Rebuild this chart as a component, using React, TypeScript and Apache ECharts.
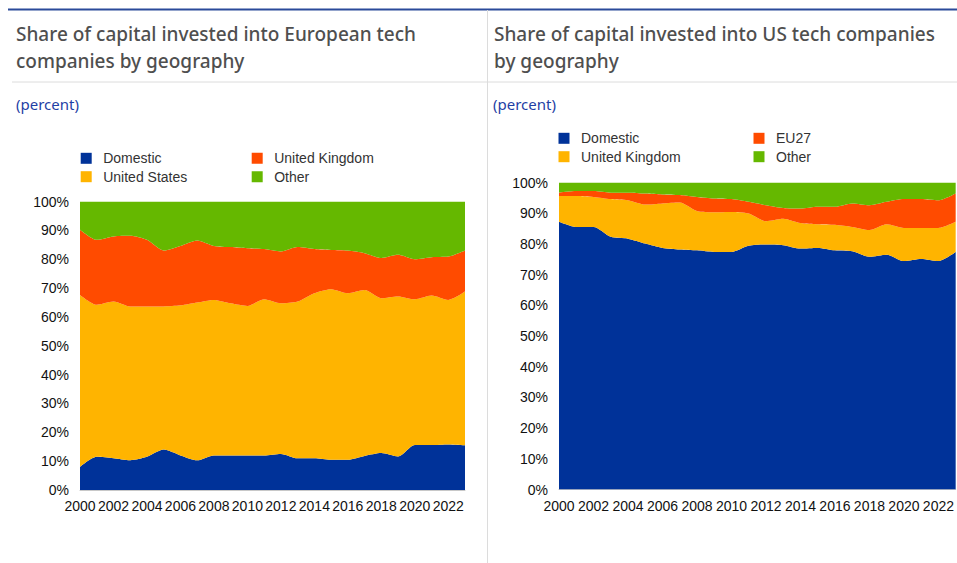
import React, { useEffect, useRef } from "react";
import * as echarts from "echarts";

const years = ["2000","2001","2002","2003","2004","2005","2006","2007","2008","2009","2010","2011","2012","2013","2014","2015","2016","2017","2018","2019","2020","2021","2022","2023"];

// Left: European tech companies
const euNames = ["Domestic", "United States", "United Kingdom", "Other"];
const euDomestic = [8.0, 11.5, 11.0, 10.3, 11.5, 14.0, 12.0, 10.3, 12.0, 12.0, 12.0, 12.0, 12.5, 11.0, 11.0, 10.5, 10.5, 11.8, 12.8, 11.6, 15.6, 15.6, 15.8, 15.5];
const euUS = [59.6, 52.7, 54.3, 53.3, 52.1, 49.6, 52.0, 54.7, 53.9, 52.7, 51.8, 54.1, 52.2, 54.3, 57.2, 59.1, 57.7, 57.5, 53.7, 55.5, 50.5, 51.8, 50.1, 53.3];
const euUK = [22.6, 22.5, 22.6, 24.5, 23.1, 19.4, 20.6, 21.5, 18.7, 19.5, 20.0, 17.4, 18.0, 18.9, 15.3, 13.6, 14.8, 12.8, 13.9, 14.4, 13.9, 13.3, 15.0, 14.2];
const euOther = [9.8, 13.3, 12.1, 11.9, 13.3, 17.0, 15.4, 13.5, 15.4, 15.8, 16.2, 16.5, 17.3, 15.8, 16.5, 16.8, 17.0, 17.9, 19.6, 18.5, 20.0, 19.3, 19.1, 17.0];

// Right: US tech companies
const usNames = ["Domestic", "United Kingdom", "EU27", "Other"];
const usDomestic = [87.2, 85.5, 85.5, 82.3, 81.7, 80.1, 78.7, 78.2, 77.9, 77.4, 77.4, 79.4, 79.8, 79.6, 78.5, 78.7, 77.9, 77.6, 75.8, 76.5, 74.4, 75.1, 74.4, 77.4];
const usUK = [8.4, 10.1, 9.8, 12.3, 12.5, 12.7, 14.5, 15.3, 12.8, 12.9, 13.0, 10.5, 7.6, 8.6, 8.3, 7.7, 8.3, 7.9, 8.7, 9.9, 10.8, 10.1, 10.8, 9.8];
const usEU = [1.1, 1.6, 1.9, 2.1, 2.5, 3.6, 2.9, 2.4, 4.6, 4.5, 4.2, 3.8, 5.2, 3.5, 4.7, 5.7, 5.9, 7.7, 8.1, 7.3, 9.4, 9.4, 9.0, 9.2];
const usOther = [3.3, 2.8, 2.8, 3.3, 3.3, 3.6, 3.9, 4.1, 4.7, 5.2, 5.4, 6.3, 7.4, 8.3, 8.5, 7.9, 7.9, 6.8, 7.4, 6.3, 5.4, 5.4, 5.8, 3.6];

const BLUE = "#003299";
const YELLOW = "#ffb400";
const RED = "#ff4b00";
const GREEN = "#65b800";

const leftTitle = ["Share of capital invested into European tech", "companies by geography"];
const rightTitle = ["Share of capital invested into US tech companies", "by geography"];
const unitLabel = "(percent)";

export default function App() {
  const ref = useRef<HTMLDivElement>(null);
  useEffect(() => {
    if (!ref.current) return;
    const chart = echarts.init(ref.current, undefined, { renderer: "svg" });

    const euData = [euDomestic, euUS, euUK, euOther];
    const euColors = [BLUE, YELLOW, RED, GREEN];
    const usData = [usDomestic, usUK, usEU, usOther];
    const usColors = [BLUE, YELLOW, RED, GREEN];

    const mkSeries = (names: string[], data: number[][], colors: string[], idx: number) =>
      names.map((n, i) => ({
        name: n,
        type: "line",
        stack: "s" + idx,
        xAxisIndex: idx,
        yAxisIndex: idx,
        data: data[i],
        symbol: "none",
        smooth: 0.25,
        lineStyle: { width: 0 },
        areaStyle: { color: colors[i], opacity: 1 },
        itemStyle: { color: colors[i] },
      }));

    const titleFont = { fontSize: 19, fontFamily: "Noto Sans", fill: "#4f4f4f", fontWeight: 500 };
    const graphics: any[] = [
      { type: "line", shape: { x1: 8, y1: 9.5, x2: 957, y2: 9.5 }, style: { stroke: "#2b4a9a", lineWidth: 2 } },
      { type: "line", shape: { x1: 12, y1: 82, x2: 957, y2: 82 }, style: { stroke: "#dcdcdc", lineWidth: 1 } },
      { type: "line", shape: { x1: 487.5, y1: 10, x2: 487.5, y2: 563 }, style: { stroke: "#dcdcdc", lineWidth: 1 } },
    ];
    leftTitle.forEach((t, i) =>
      graphics.push({ type: "text", x: 16, y: 34 + i * 27, style: { text: t, ...titleFont, verticalAlign: "middle" } })
    );
    rightTitle.forEach((t, i) =>
      graphics.push({ type: "text", x: 494, y: 34 + i * 27, style: { text: t, ...titleFont, verticalAlign: "middle" } })
    );
    graphics.push({ type: "text", x: 16, y: 104, style: { text: unitLabel, fontSize: 15, fontFamily: "Noto Sans", fill: "#1f3fa5", verticalAlign: "middle" } });
    graphics.push({ type: "text", x: 493, y: 104, style: { text: unitLabel, fontSize: 15, fontFamily: "Noto Sans", fill: "#1f3fa5", verticalAlign: "middle" } });

    // legends: 2x2
    const addLegend = (items: { name: string; color: string }[], cols: number[], rows: number[]) => {
      items.forEach((it, k) => {
        const c = k % 2, r = Math.floor(k / 2);
        graphics.push({ type: "rect", shape: { x: cols[c], y: rows[r] - 5.5, width: 11, height: 11 }, style: { fill: it.color } });
        graphics.push({ type: "text", x: cols[c] + 22.5, y: rows[r], style: { text: it.name, fontSize: 14, fontFamily: "Liberation Sans", fill: "#333333", verticalAlign: "middle" } });
      });
    };
    addLegend(
      [
        { name: euNames[0], color: euColors[0] },
        { name: euNames[2], color: euColors[2] },
        { name: euNames[1], color: euColors[1] },
        { name: euNames[3], color: euColors[3] },
      ],
      [80.7, 251.7],
      [158.3, 176.7]
    );
    addLegend(
      [
        { name: usNames[0], color: usColors[0] },
        { name: usNames[2], color: usColors[2] },
        { name: usNames[1], color: usColors[1] },
        { name: usNames[3], color: usColors[3] },
      ],
      [558.5, 753.5],
      [138.3, 156.7]
    );

    const xAxisBase = (gi: number) => ({
      type: "category",
      gridIndex: gi,
      data: years,
      boundaryGap: false,
      axisTick: { show: false },
      axisLine: { show: true, lineStyle: { color: "#c8c8c8" } },
      axisLabel: { interval: 1, fontSize: 14, fontFamily: "Liberation Sans", color: "#111111", margin: 9 },
    });
    const yAxisBase = (gi: number) => ({
      type: "value",
      gridIndex: gi,
      min: 0,
      max: 100,
      interval: 10,
      splitLine: { show: false },
      axisLine: { show: false },
      axisTick: { show: false },
      axisLabel: { formatter: "{value}%", fontSize: 14, fontFamily: "Liberation Sans", color: "#111111", margin: 11 },
    });

    chart.setOption({
      animation: false,
      backgroundColor: "#ffffff",
      grid: [
        { left: 80, top: 201.5, width: 385, height: 288.5 },
        { left: 559, top: 182.5, width: 398, height: 307 },
      ],
      xAxis: [xAxisBase(0), xAxisBase(1)],
      yAxis: [yAxisBase(0), yAxisBase(1)],
      series: [...mkSeries(euNames, euData, euColors, 0), ...mkSeries(usNames, usData, usColors, 1)],
      graphic: graphics,
    });
    return () => chart.dispose();
  }, []);
  return <div ref={ref} style={{ position: "absolute", left: 0, top: 0, width: 957, height: 563 }} />;
}
